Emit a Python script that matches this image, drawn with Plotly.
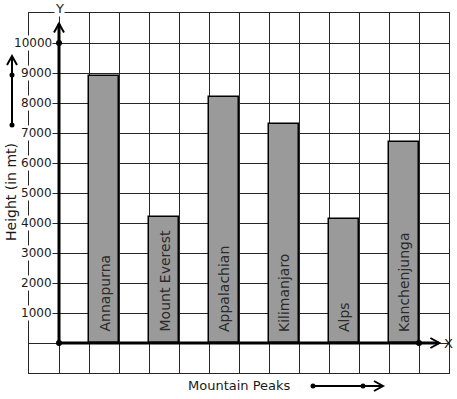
import plotly.graph_objects as go

# ---- data ----
peaks = ["Annapurna", "Mount Everest", "Appalachian", "Kilimanjaro", "Alps", "Kanchenjunga"]
heights = [8900, 4200, 8200, 7300, 4150, 6700]
y_ticks = [1000, 2000, 3000, 4000, 5000, 6000, 7000, 8000, 9000, 10000]
x_title = "Mountain Peaks"
y_title = "Height (in mt)"

W, H = 457, 399
ML, MR, MT, MB = 29, 8, 13, 26
PW, PH = W - ML - MR, H - MT - MB
FONT = "DejaVu Sans"
INK = "#1a1a1a"


def px(xp):
    return (xp - ML) / PW


def py(yp):
    return (H - MB - yp) / PH


x_pos = [2 * i + 1.5 for i in range(len(peaks))]

fig = go.Figure()
fig.add_trace(go.Bar(
    x=x_pos, y=heights, width=1,
    marker=dict(color="#9a9a9a", line=dict(color="#000000", width=1.5)),
    hoverinfo="skip", showlegend=False,
))

# dots on axes
fig.add_trace(go.Scatter(
    x=[0, 0, 12], y=[0, 10000, 0], mode="markers",
    marker=dict(color="#000000", size=6), cliponaxis=False,
    hoverinfo="skip", showlegend=False,
))

shapes = []
ux = 1 / 30.0      # data units per pixel (x)
uy = 1000 / 30.0   # data units per pixel (y)
# thick axes
shapes.append(dict(type="line", xref="x", yref="y", x0=0, y0=0, x1=0, y1=10640,
                   line=dict(color="#000", width=3)))
shapes.append(dict(type="line", xref="x", yref="y", x0=0, y0=0, x1=12.65, y1=0,
                   line=dict(color="#000", width=3)))
# arrowheads (open chevrons)
ytip = 10650
shapes.append(dict(type="path", xref="x", yref="y",
                   path=f"M {-5*ux},{ytip-9*uy} L 0,{ytip} L {5*ux},{ytip-9*uy}",
                   line=dict(color="#000", width=2)))
xtip = 12.68
shapes.append(dict(type="path", xref="x", yref="y",
                   path=f"M {xtip-9*ux},{5*uy} L {xtip},0 L {xtip-9*ux},{-5*uy}",
                   line=dict(color="#000", width=2)))

# left decorative arrow (paper coords)
shapes.append(dict(type="line", xref="paper", yref="paper",
                   x0=px(12), y0=py(125), x1=px(12), y1=py(57),
                   line=dict(color="#000", width=2)))
shapes.append(dict(type="path", xref="paper", yref="paper",
                   path=f"M {px(7)},{py(65)} L {px(12)},{py(56)} L {px(17)},{py(65)}",
                   line=dict(color="#000", width=2)))
for yy in (75, 125):
    shapes.append(dict(type="circle", xref="paper", yref="paper",
                       x0=px(9.5), x1=px(14.5), y0=py(yy - 2.5), y1=py(yy + 2.5),
                       fillcolor="#000", line=dict(width=0)))
# bottom decorative arrow
shapes.append(dict(type="line", xref="paper", yref="paper",
                   x0=px(313), y0=py(386), x1=px(382), y1=py(386),
                   line=dict(color="#000", width=2)))
shapes.append(dict(type="path", xref="paper", yref="paper",
                   path=f"M {px(374)},{py(381)} L {px(383)},{py(386)} L {px(374)},{py(391)}",
                   line=dict(color="#000", width=2)))
for xx in (313, 363):
    shapes.append(dict(type="circle", xref="paper", yref="paper",
                       x0=px(xx - 2.5), x1=px(xx + 2.5), y0=py(386 - 2.5), y1=py(386 + 2.5),
                       fillcolor="#000", line=dict(width=0)))

annotations = []
for v in y_ticks:
    annotations.append(dict(x=-0.2, y=v, xref="x", yref="y", text=f"{v}",
                            showarrow=False, xanchor="right", yanchor="middle",
                            bgcolor="white", borderpad=0,
                            font=dict(family=FONT, size=12, color=INK)))
for xc, name in zip(x_pos, peaks):
    annotations.append(dict(x=xc, y=0, xref="x", yref="y", text=name,
                            showarrow=False, textangle=-90, xanchor="center",
                            yanchor="bottom", yshift=9,
                            font=dict(family=FONT, size=14, color="#2a2a2a")))
annotations.append(dict(x=12.78, y=0, xref="x", yref="y", text="X", showarrow=False,
                        xanchor="left", yanchor="middle",
                        font=dict(family=FONT, size=13, color=INK)))
annotations.append(dict(x=0, y=11000, xref="x", yref="y", text="Y", showarrow=False,
                        xanchor="center", yanchor="middle", yshift=5, bgcolor="white",
                        borderpad=0, font=dict(family=FONT, size=13, color=INK)))
annotations.append(dict(x=px(239), y=py(385), xref="paper", yref="paper", text=x_title,
                        showarrow=False, xanchor="center", yanchor="middle",
                        font=dict(family=FONT, size=13, color=INK)))
annotations.append(dict(x=px(11), y=py(192), xref="paper", yref="paper", text=y_title,
                        showarrow=False, xanchor="center", yanchor="middle", textangle=-90,
                        font=dict(family=FONT, size=14, color=INK)))

grid = "#262626"
fig.update_layout(
    width=W, height=H,
    margin=dict(l=ML, r=MR, t=MT, b=MB, pad=0),
    paper_bgcolor="white", plot_bgcolor="white",
    xaxis=dict(range=[-1, 13], tick0=0, dtick=1, showgrid=True, gridcolor=grid,
               gridwidth=1, zeroline=False, showticklabels=False, ticks="",
               showline=True, mirror=True, linecolor=grid, linewidth=1, fixedrange=True),
    yaxis=dict(range=[-1000, 11000], tick0=0, dtick=1000, showgrid=True, gridcolor=grid,
               gridwidth=1, zeroline=False, showticklabels=False, ticks="",
               showline=True, mirror=True, linecolor=grid, linewidth=1, fixedrange=True),
    shapes=shapes, annotations=annotations, bargap=0,
)

fig.write_html("out.html", config={"displayModeBar": False},
               post_script="document.body.style.margin='0';document.body.style.padding='0';")
